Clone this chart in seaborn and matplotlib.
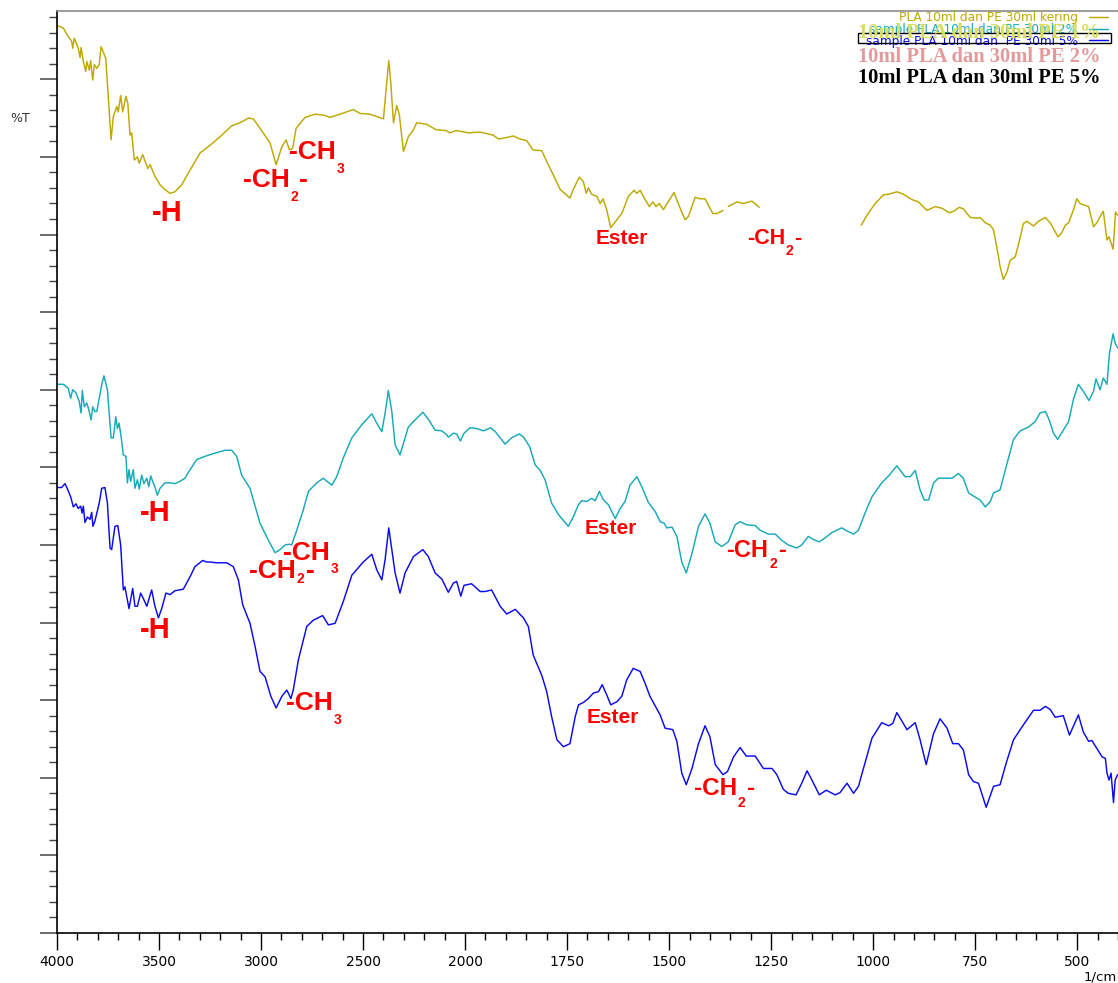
import numpy as np
import pandas as pd
import matplotlib
matplotlib.use("Agg")
import matplotlib.pyplot as plt
from matplotlib.patches import Rectangle
from matplotlib.ticker import FixedLocator, FixedFormatter, NullFormatter
import seaborn as sns

# ---------------------------------------------------------------------------
# FTIR spectra: wavenumber (1/cm) and transmittance (%T); NaN marks a break
# ---------------------------------------------------------------------------
kering_wn = [
    3998, 3969, 3945, 3928, 3923, 3915, 3896, 3887, 3882, 3871,
    3859, 3854, 3842, 3835, 3825, 3817, 3805, 3793, 3784, 3761,
    3735, 3724, 3707, 3700, 3688, 3678, 3662, 3653, 3642, 3634,
    3621, 3606, 3597, 3580, 3555, 3544, 3520, 3495, 3471, 3446,
    3422, 3389, 3348, 3299, 3250, 3201, 3144, 3103, 3062, 3038,
    3005, 2956, 2926, 2898, 2877, 2861, 2845, 2828, 2784, 2735,
    2695, 2662, 2613, 2548, 2515, 2466, 2400, 2392, 2374, 2364,
    2351, 2335, 2322, 2302, 2278, 2253, 2237, 2188, 2142, 2093,
    2074, 2044, 1992, 1963, 1931, 1918, 1898, 1882, 1865, 1849,
    1834, 1812, 1800, 1784, 1767, 1743, 1735, 1720, 1710, 1703,
    1698, 1690, 1677, 1669, 1662, 1653, 1643, 1628, 1616, 1600,
    1586, 1579, 1571, 1559, 1548, 1540, 1532, 1524, 1514, 1499,
    1488, 1473, 1461, 1453, 1436, 1424, 1412, 1393, 1383, 1368,
    1362,
    1355, 1334, 1318, 1297, 1279,
    1150,
    1029, 1015, 995, 975, 962, 942, 926, 905, 889, 868,
    848, 832, 813, 803, 789, 779, 762, 746, 738, 725,
    713, 705, 695, 689, 681, 672, 664, 652, 644, 632,
    623, 607, 595, 578, 566, 547, 538, 529, 521, 509,
    501, 493, 483, 472, 460, 452, 444, 436, 427, 422,
    412, 406, 401,
]
kering_t = [
    116.9, 116.6, 115.5, 114.9, 114.0, 115.3, 114.0, 112.8, 114.1, 112.3,
    111.0, 112.3, 111.2, 112.4, 109.9, 111.9, 111.4, 111.9, 114.2, 112.7,
    102.2, 105.2, 106.5, 105.8, 107.9, 105.8, 107.8, 106.9, 102.8, 103.1,
    99.6, 100.0, 99.2, 100.3, 98.5, 99.0, 97.5, 96.4, 95.8, 95.3,
    95.5, 96.4, 98.3, 100.5, 101.5, 102.6, 104.0, 104.4, 105.0, 104.9,
    103.7, 101.8, 99.0, 101.3, 102.2, 100.9, 101.1, 103.7, 105.1, 105.5,
    105.4, 105.1, 105.5, 106.1, 105.6, 105.5, 104.9, 107.3, 112.4, 109.5,
    104.4, 106.6, 105.4, 100.7, 102.6, 103.5, 104.4, 104.2, 103.5, 103.4,
    103.1, 103.4, 103.1, 103.2, 102.8, 102.3, 102.5, 102.7, 102.3, 102.1,
    100.9, 100.8, 99.4, 97.7, 95.8, 94.7, 95.8, 97.4, 96.8, 95.3,
    96.0, 95.2, 94.9, 94.0, 94.6, 93.2, 90.9, 91.9, 92.7, 94.9,
    95.7, 95.3, 95.7, 94.5, 93.6, 94.2, 93.6, 94.0, 93.2, 94.5,
    95.4, 93.4, 91.9, 92.3, 94.8, 94.6, 94.6, 92.7, 92.7, 93.1,
    np.nan,
    93.6, 94.2, 94.0, 94.3, 93.5,
    np.nan,
    91.2, 92.5, 94.0, 95.1, 95.2, 95.5, 95.2, 94.5, 94.2, 93.1,
    93.6, 93.4, 92.8, 93.0, 93.5, 93.3, 92.2, 92.1, 92.2, 91.5,
    91.2, 90.6, 87.8, 85.9, 84.2, 85.2, 86.7, 87.1, 88.7, 91.4,
    91.7, 91.1, 91.7, 92.2, 91.5, 89.7, 90.2, 91.2, 91.5, 93.2,
    94.6, 94.0, 93.8, 93.6, 91.0, 91.5, 92.3, 93.0, 89.3, 89.7,
    88.1, 92.9, 92.5,
]

pe2_wn = [
    3998, 3969, 3945, 3933, 3923, 3907, 3891, 3882, 3876, 3866,
    3854, 3843, 3833, 3825, 3814, 3805, 3793, 3781, 3770, 3753,
    3735, 3724, 3712, 3704, 3696, 3686, 3675, 3662, 3655, 3647,
    3639, 3626, 3618, 3606, 3597, 3585, 3574, 3560, 3550, 3541,
    3528, 3518, 3508, 3495, 3471, 3446, 3422, 3397, 3373, 3348,
    3315, 3266, 3217, 3176, 3144, 3119, 3095, 3054, 3005, 2964,
    2931, 2907, 2882, 2861, 2850, 2825, 2793, 2768, 2727, 2695,
    2653, 2629, 2597, 2555, 2506, 2457, 2433, 2408, 2392, 2376,
    2359, 2343, 2319, 2278, 2253, 2207, 2180, 2147, 2114, 2090,
    2082, 2057, 2041, 2023, 2005, 1988, 1971, 1955, 1937, 1926,
    1902, 1886, 1867, 1857, 1842, 1828, 1816, 1804, 1788, 1771,
    1747, 1735, 1722, 1714, 1702, 1690, 1681, 1671, 1661, 1649,
    1632, 1620, 1608, 1596, 1579, 1567, 1551, 1534, 1522, 1512,
    1506, 1493, 1481, 1469, 1458, 1444, 1428, 1412, 1400, 1387,
    1371, 1355, 1338, 1326, 1310, 1289, 1277, 1257, 1240, 1224,
    1208, 1187, 1175, 1159, 1146, 1132, 1118, 1101, 1077, 1064,
    1048, 1036, 1020, 1003, 979, 962, 942, 922, 909, 897,
    885, 875, 864, 852, 840, 807, 791, 779, 766, 754,
    738, 725, 713, 705, 689, 676, 656, 640, 619, 603,
    591, 578, 570, 558, 548, 534, 521, 509, 497, 485,
    471, 460, 454, 444, 436, 427, 421, 412, 407, 401,
]
pe2_t = [
    70.7, 70.7, 70.2, 68.9, 70.0, 69.6, 68.5, 67.0, 69.9, 67.8,
    68.3, 67.3, 66.1, 67.8, 67.2, 67.2, 68.9, 70.6, 71.8, 70.0,
    63.8, 63.8, 66.5, 65.0, 65.7, 64.0, 61.6, 61.4, 58.0, 59.7,
    58.2, 59.7, 57.3, 58.4, 57.2, 59.0, 57.9, 58.6, 57.5, 58.9,
    58.0, 57.3, 56.4, 57.3, 58.0, 58.0, 57.9, 58.2, 58.6, 59.7,
    61.0, 61.5, 61.9, 62.2, 62.2, 61.4, 59.0, 57.3, 52.8, 50.6,
    49.0, 49.4, 50.0, 50.1, 50.0, 51.9, 54.5, 56.9, 58.0, 58.6,
    57.7, 58.8, 61.2, 63.8, 65.5, 66.9, 65.7, 64.6, 67.0, 69.9,
    67.2, 62.9, 61.6, 65.2, 65.9, 67.1, 66.2, 64.8, 64.7, 64.2,
    63.9, 64.4, 64.3, 63.4, 64.4, 65.1, 65.0, 64.7, 65.1, 64.6,
    63.0, 63.8, 64.3, 63.9, 62.7, 60.3, 59.6, 58.4, 55.4, 53.9,
    52.4, 53.6, 55.2, 55.7, 55.6, 56.0, 55.7, 56.9, 55.8, 55.2,
    53.4, 54.7, 55.6, 57.7, 58.8, 57.5, 55.5, 54.3, 53.0, 52.8,
    52.2, 52.3, 51.1, 47.8, 46.4, 48.9, 52.4, 54.0, 52.8, 50.4,
    49.8, 50.4, 52.6, 53.0, 52.6, 52.5, 51.9, 51.4, 51.4, 50.6,
    50.0, 49.6, 50.0, 51.1, 50.7, 50.4, 50.9, 51.6, 52.2, 51.8,
    51.4, 51.9, 54.1, 56.2, 58.0, 58.9, 60.2, 58.8, 58.8, 59.6,
    57.1, 55.8, 55.8, 58.0, 58.6, 58.6, 59.2, 58.6, 56.7, 56.3,
    55.8, 54.9, 55.6, 56.7, 57.1, 59.7, 63.6, 64.7, 65.2, 65.9,
    67.0, 67.2, 66.3, 64.4, 63.6, 64.8, 65.9, 68.8, 70.7, 69.8,
    68.6, 69.8, 71.4, 70.0, 71.5, 70.7, 74.7, 77.2, 76.0, 75.4,
]

pe5_wn = [
    3998, 3977, 3961, 3950, 3933, 3920, 3907, 3896, 3884, 3877,
    3871, 3863, 3851, 3838, 3830, 3824, 3814, 3793, 3781, 3765,
    3753, 3740, 3732, 3716, 3702, 3688, 3675, 3667, 3658, 3647,
    3629, 3618, 3606, 3590, 3577, 3560, 3536, 3520, 3503, 3487,
    3466, 3446, 3422, 3381, 3348, 3324, 3286, 3266, 3250, 3217,
    3168, 3136, 3111, 3090, 3054, 3029, 3005, 2980, 2952, 2926,
    2898, 2874, 2866, 2854, 2842, 2817, 2776, 2744, 2698, 2670,
    2637, 2597, 2555, 2499, 2457, 2433, 2408, 2392, 2374, 2359,
    2343, 2319, 2294, 2253, 2207, 2180, 2147, 2114, 2082, 2057,
    2041, 2021, 2005, 1984, 1963, 1951, 1935, 1914, 1898, 1877,
    1857, 1845, 1833, 1812, 1800, 1788, 1775, 1759, 1743, 1730,
    1722, 1710, 1698, 1686, 1673, 1664, 1653, 1643, 1628, 1616,
    1604, 1588, 1571, 1559, 1547, 1522, 1510, 1491, 1481, 1469,
    1458, 1444, 1428, 1412, 1400, 1387, 1368, 1357, 1342, 1326,
    1311, 1289, 1269, 1248, 1236, 1220, 1208, 1189, 1175, 1162,
    1150, 1132, 1115, 1093, 1081, 1064, 1048, 1036, 1020, 1003,
    979, 962, 952, 942, 917, 897, 885, 870, 852, 836,
    819, 805, 791, 779, 766, 754, 742, 723, 705, 689,
    674, 656, 636, 607, 591, 578, 566, 554, 534, 519,
    497, 485, 472, 464, 452, 439, 431, 427, 422, 417,
    411, 407, 401,
]
pe5_t = [
    57.4, 57.4, 57.9, 57.3, 56.2, 54.9, 55.3, 54.7, 55.0, 54.1,
    55.0, 52.9, 53.6, 53.3, 54.2, 52.4, 53.1, 55.4, 57.3, 57.4,
    55.4, 49.6, 49.4, 52.4, 52.5, 50.0, 44.2, 44.6, 43.3, 41.8,
    44.4, 42.1, 42.1, 43.8, 43.1, 42.1, 44.2, 42.1, 40.6, 41.8,
    43.8, 43.6, 44.1, 44.3, 45.9, 47.2, 48.0, 47.8, 47.8, 47.7,
    47.7, 47.2, 45.5, 42.3, 39.9, 36.9, 33.7, 33.0, 30.5, 29.0,
    30.5, 31.3, 30.9, 30.2, 31.3, 35.2, 39.5, 40.3, 40.9, 39.7,
    39.9, 42.7, 46.1, 47.8, 48.8, 46.8, 45.5, 48.1, 52.2, 49.4,
    46.4, 43.8, 46.4, 48.5, 49.4, 48.5, 46.4, 45.6, 43.9, 45.1,
    45.3, 43.4, 44.8, 45.0, 44.0, 44.0, 44.2, 42.1, 41.1, 41.7,
    40.6, 39.5, 35.8, 33.2, 31.1, 27.9, 24.9, 24.0, 24.4, 27.9,
    29.4, 29.7, 30.2, 30.9, 31.1, 32.0, 30.7, 29.4, 29.8, 30.5,
    32.6, 34.1, 33.7, 32.2, 30.5, 28.1, 26.4, 26.2, 24.7, 20.6,
    19.1, 21.2, 24.4, 26.7, 25.3, 21.7, 20.4, 20.8, 22.7, 23.9,
    22.8, 22.8, 21.2, 21.2, 20.4, 18.5, 18.0, 17.8, 19.3, 20.9,
    19.7, 17.8, 18.4, 17.8, 18.1, 19.3, 18.0, 18.9, 21.9, 25.1,
    27.1, 26.7, 27.0, 28.4, 26.2, 27.1, 24.9, 21.7, 25.7, 27.6,
    26.4, 24.4, 24.4, 23.6, 20.4, 19.5, 19.3, 16.2, 18.9, 19.1,
    21.9, 24.9, 26.5, 28.7, 28.7, 29.2, 28.8, 27.8, 28.0, 25.5,
    28.1, 25.9, 24.7, 24.8, 23.8, 22.7, 22.5, 20.6, 19.7, 20.6,
    16.8, 19.7, 20.4,
]

series_labels = [
    "PLA 10ml dan PE 30ml kering",
    "sample PLA 10ml dan PE 30ml 2%",
    "sample PLA 10ml dan  PE 30ml 5%",
]
overlay_titles = [
    "10ml PLA dan 30ml PE 1%",
    "10ml PLA dan 30ml PE 2%",
    "10ml PLA dan 30ml PE 5%",
]
major_wn = [4000, 3500, 3000, 2500, 2000, 1750, 1500, 1250, 1000, 750, 500]

OLIVE = "#bfa800"
CYAN = "#17a9ba"
BLUE = "#0a0aee"
RED = "#ff0000"

sns.set_style("white")
plt.rcParams["font.family"] = ["DejaVu Sans"]

W, H = 1118, 983
fig = plt.figure(figsize=(W / 100, H / 100), dpi=100)
ax = fig.add_axes([57 / W, 50 / H, 1061 / W, 922 / H])

# ---------------------------------------------------------------------------
# spectra
# ---------------------------------------------------------------------------
colors = [OLIVE, CYAN, BLUE]
handles = []
for label, wn, t, color in zip(series_labels,
                               [kering_wn, pe2_wn, pe5_wn],
                               [kering_t, pe2_t, pe5_t], colors):
    df = pd.DataFrame({"wn": wn, "t": t})
    df["seg"] = df["t"].isna().cumsum()
    df = df.dropna()
    first = None
    for _, part in df.groupby("seg"):
        n0 = len(ax.lines)
        sns.lineplot(data=part, x="wn", y="t", ax=ax, color=color,
                     linewidth=1.05, sort=False, estimator=None, legend=False)
        if first is None:
            first = ax.lines[n0]
    handles.append(first)


# two-slope wavenumber axis: 4000-2000 compressed by half
def _fwd(x):
    x = np.asarray(x, float)
    return np.where(x > 2000, 2000 + (x - 2000) / 2, x)


def _inv(p):
    p = np.asarray(p, float)
    return np.where(p > 2000, 2000 + (p - 2000) * 2, p)


ax.set_xscale("function", functions=(_fwd, _inv))
ax.set_xlim(4000, 400)
ax.set_ylim(0, 118.8)
ax.set_xlabel("")
ax.set_ylabel("")

ax.xaxis.set_major_locator(FixedLocator(major_wn))
ax.xaxis.set_major_formatter(FixedFormatter([str(v) for v in major_wn]))
minor_wn = [v for v in list(range(4000, 2000, -100)) + list(range(2000, 399, -50))
            if v not in major_wn]
ax.xaxis.set_minor_locator(FixedLocator(minor_wn))
ax.xaxis.set_minor_formatter(NullFormatter())

ax.yaxis.set_major_locator(FixedLocator(np.arange(0, 111, 10)))
ax.yaxis.set_minor_locator(FixedLocator(np.arange(0, 119, 2)))
ax.yaxis.set_major_formatter(NullFormatter())

ax.tick_params(which="both", bottom=True, left=True, top=False, right=False)
ax.tick_params(axis="x", which="major", direction="out", length=12.5, width=1.0,
               color="black", labelsize=10, labelcolor="black", pad=3)
ax.tick_params(axis="x", which="minor", direction="out", length=5, width=1.0,
               color="black")
ax.tick_params(axis="y", which="major", direction="out", length=12.5, width=1.1,
               color="#444444", labelleft=False)
ax.tick_params(axis="y", which="minor", direction="out", length=5.5, width=1.0,
               color="#444444")

ax.spines["right"].set_visible(False)
ax.spines["top"].set_color("#8c8c8c")
ax.spines["top"].set_linewidth(1.2)
for side in ("left", "bottom"):
    ax.spines[side].set_color("black")
    ax.spines[side].set_linewidth(1.2)

fig.text(10 / W, 1 - 118 / H, "%T", ha="left", va="center", fontsize=9,
         color="#333333")
fig.text(1117 / W, 1 - 981 / H, "1/cm", ha="right", va="baseline", fontsize=9.5,
         color="black")

# ---------------------------------------------------------------------------
# functional-group labels
# ---------------------------------------------------------------------------
LBL = dict(color=RED, fontweight="bold", family="Liberation Sans",
           clip_on=False)


def chem_label(wn, t, head, size, sub=None, tail=None, sub_size=10, drop=9.5):
    t1 = ax.text(wn, t, head, fontsize=size, ha="left", va="baseline", **LBL)
    if sub is None:
        return
    t2 = ax.annotate(sub, xy=(1, t), xycoords=(t1, "data"),
                     xytext=(0.6, -drop), textcoords="offset points",
                     fontsize=sub_size, ha="left", va="baseline", **LBL)
    if tail:
        ax.annotate(tail, xy=(1, t), xycoords=(t2, "data"),
                    xytext=(0.8, 0), textcoords="offset points",
                    fontsize=size, ha="left", va="baseline", **LBL)


# PLA 10ml dan PE 30ml kering
chem_label(3461 + 75, 91.8, "-H", 21)
chem_label(3090, 96.1, "-CH", 19, "2", "-", drop=10)
chem_label(2861, 99.7, "-CH", 19, "3", drop=9.6)
chem_label(1681, 88.8, "Ester", 15)
chem_label(1310, 88.8, "-CH", 15.5, "2", "-", drop=8)
# 2 %
chem_label(3593, 53.1, "-H", 21)
chem_label(2891, 48.1, "-CH", 19, "3", drop=9.6)
chem_label(3057, 45.7, "-CH", 19, "2", "-", drop=3.6)
chem_label(1708, 51.4, "Ester", 15)
chem_label(1360, 48.5, "-CH", 17, "2", "-", drop=8.4)
# 5 %
chem_label(3593, 38.0, "-H", 21)
chem_label(2879, 28.7, "-CH", 19, "3", drop=10)
chem_label(1702, 27.0, "Ester", 15)
chem_label(1439, 17.8, "-CH", 17.5, "2", "-", drop=8.4)

# ---------------------------------------------------------------------------
# legend block, top right
# ---------------------------------------------------------------------------
overlay_colors = ["#d8dd5c", "#e39a9a", "#000000"]
overlay_baselines = [38, 61.7, 83]
fig.text(858 / W, 1 - overlay_baselines[0] / H, overlay_titles[0],
         family="Liberation Serif", fontweight="bold", fontsize=14.8,
         color=overlay_colors[0], ha="left", va="baseline", zorder=1)

leg = ax.legend(handles, series_labels, loc="upper right",
                bbox_to_anchor=(1108.3 / W, 1 - 11.5 / H),
                bbox_transform=fig.transFigure, frameon=False,
                markerfirst=False, fontsize=8.7, handlelength=1.57,
                handletextpad=0.96, labelspacing=-0.12, borderpad=0,
                borderaxespad=0, labelcolor="linecolor")
leg.set_zorder(5)

for title, color, base in zip(overlay_titles[1:], overlay_colors[1:],
                              overlay_baselines[1:]):
    fig.text(858 / W, 1 - base / H, title, family="Liberation Serif",
             fontweight="bold", fontsize=14.8, color=color, ha="left",
             va="baseline")

fig.add_artist(Rectangle((857.7 / W, 1 - 43.3 / H), 253 / W, 10.6 / H,
                         transform=fig.transFigure, fill=False,
                         edgecolor="black", linewidth=1.0))

fig.savefig("out.png", dpi=100)
